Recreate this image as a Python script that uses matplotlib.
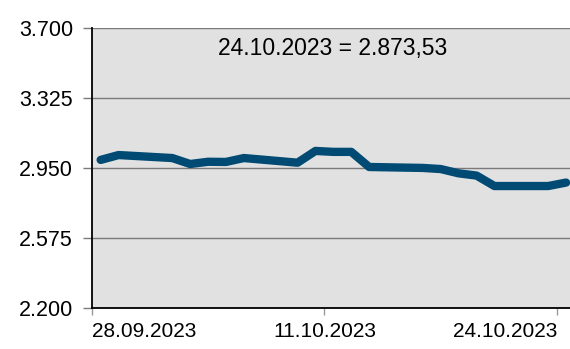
import datetime as dt
import matplotlib
matplotlib.use("Agg")
import matplotlib.pyplot as plt

# Trading days and closing values of the index
dates = ["28.09.2023", "29.09.2023", "02.10.2023", "03.10.2023", "04.10.2023",
         "05.10.2023", "06.10.2023", "09.10.2023", "10.10.2023", "11.10.2023",
         "12.10.2023", "13.10.2023", "16.10.2023", "17.10.2023", "18.10.2023",
         "19.10.2023", "20.10.2023", "23.10.2023", "24.10.2023"]
values = [2995, 3021, 3005, 2973, 2985, 2984, 3005, 2980, 3043, 3038,
          3038, 2957, 2952, 2946, 2923, 2911, 2855, 2855, 2873.53]

y_ticks = [2200, 2575, 2950, 3325, 3700]
y_tick_labels = ["2.200", "2.575", "2.950", "3.325", "3.700"]
x_tick_labels = ["28.09.2023", "11.10.2023", "24.10.2023"]
headline = "24.10.2023 = 2.873,53"

plt.rcParams["font.family"] = ["Liberation Sans", "DejaVu Sans"]

parse = lambda s: dt.datetime.strptime(s, "%d.%m.%Y").date()
start = parse(dates[0])
day_index = [(parse(d) - start).days for d in dates]

fig = plt.figure(figsize=(5.70, 3.49), dpi=100)
ax = fig.add_axes([91.7 / 570, 1 - 308.3 / 349, (570 - 91.7) / 570, 280 / 349])
ax.set_facecolor("#e1e1e1")

ax.plot(day_index, values, color="#004a73", lw=6, solid_capstyle="round",
        solid_joinstyle="round", zorder=3, clip_on=False)

ax.set_ylim(2200, 3700)
ax.set_yticks(y_ticks)
ax.set_yticklabels(y_tick_labels, size=15.5)
ax.yaxis.grid(True, color="#7a7a7a", lw=1)
ax.set_axisbelow(True)

# Date axis: each day occupies one slot, ticks sit on the slot's left edge
px_per_day = 17.9
ax.set_xlim(-0.5, -0.5 + (570 - 91.7) / px_per_day)
tick_pos = [(parse(d) - start).days - 0.5 for d in x_tick_labels]
ax.set_xticks(tick_pos)
ax.set_xticklabels(x_tick_labels, size=15)
labels = ax.get_xticklabels()
labels[0].set_horizontalalignment("left")
labels[2].set_horizontalalignment("right")

ax.tick_params(axis="y", length=6.5, width=1, color="#7a7a7a", pad=7)
ax.tick_params(axis="x", length=5, width=1, color="#9a9a9a", pad=5)

for side in ("top", "right"):
    ax.spines[side].set_visible(False)
ax.spines["left"].set_color("black")
ax.spines["left"].set_linewidth(1.3)
ax.spines["bottom"].set_color("black")
ax.spines["bottom"].set_linewidth(1.3)

ax.text(0.5045, 0.928, headline, transform=ax.transAxes, ha="center",
        va="center", size=16.5)

fig.savefig("out.png", dpi=100)
